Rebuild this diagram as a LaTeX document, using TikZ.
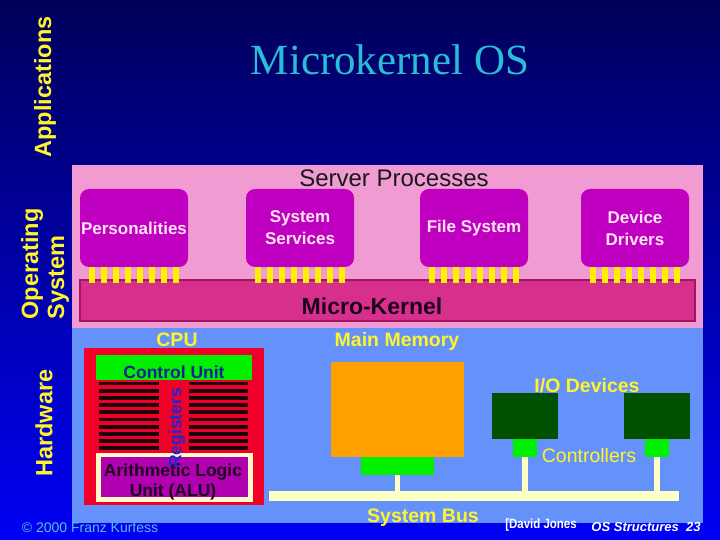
\documentclass[tikz,border=0pt]{standalone}
\usepackage{fontspec}
\setmainfont{Liberation Serif}
\setsansfont{Liberation Sans}
\usetikzlibrary{positioning}
\definecolor{bgtop}{RGB}{0,0,90}
\definecolor{bgbot}{RGB}{0,0,245}
\definecolor{titlecyan}{RGB}{40,190,215}
\definecolor{labyel}{RGB}{255,245,40}
\definecolor{pinkpan}{RGB}{240,155,210}
\definecolor{bluepan}{RGB}{100,145,250}
\definecolor{srvmag}{RGB}{192,0,192}
\definecolor{srvtxt}{RGB}{255,228,245}
\definecolor{kerfill}{RGB}{214,48,140}
\definecolor{kerline}{RGB}{165,20,95}
\definecolor{pinyel}{RGB}{255,240,0}
\definecolor{cpured}{RGB}{240,0,40}
\definecolor{cugreen}{RGB}{0,240,0}
\definecolor{cutxt}{RGB}{20,30,150}
\definecolor{regblue}{RGB}{30,40,210}
\definecolor{regstripe}{RGB}{30,0,10}
\definecolor{alucream}{RGB}{255,250,200}
\definecolor{alupurple}{RGB}{176,0,176}
\definecolor{darktxt}{RGB}{30,0,30}
\definecolor{memorg}{RGB}{255,160,0}
\definecolor{iogreen}{RGB}{0,80,0}
\definecolor{buscream}{RGB}{255,255,200}
\definecolor{copyblue}{RGB}{90,190,225}

\begin{document}
\begin{tikzpicture}[x=1pt, y=-1pt,
    lbl/.style   = {inner sep=0, text=labyel,
                    font=\sffamily\bfseries\fontsize{19.5}{22}\selectfont},
    side/.style  = {inner sep=0, rotate=90, align=left, text=labyel,
                    font=\sffamily\bfseries\fontsize{23.5}{26}\selectfont},
    srv/.style   = {fill=srvmag, rounded corners=9pt, minimum width=108pt,
                    minimum height=78pt, inner sep=0, align=center, text=srvtxt,
                    font=\sffamily\bfseries\fontsize{17}{22}\selectfont},
    blk/.style   = {inner sep=0, outer sep=0},
    unit/.style  = {inner sep=0, align=center,
                    font=\sffamily\bfseries\fontsize{17.5}{20}\selectfont},
    pin/.style   = {fill=pinyel},
    stub/.style  = {draw=buscream, line width=5.5pt}
  ]
  \useasboundingbox (0,0) rectangle (720,540);
  \shade[top color=bgtop, bottom color=bgbot] (0,0) rectangle (720,540);

  % title and layer labels
  \node[font=\fontsize{43}{48}\selectfont, text=titlecyan] (title) at (390,60) {Microkernel OS};
  \node[side] (applbl) at (45,87) {Applications};
  \node[side] (oslbl)  at (45,264) {Operating\\System};
  \node[side] (hwlbl)  at (44,423) {Hardware};

  % operating system layer
  \fill[pinkpan] (72,165) rectangle (703,328);
  \fill[bluepan] (72,328) rectangle (703,523);
  \node[inner sep=0, text=black!90, font=\sffamily\fontsize{24}{26}\selectfont]
        (srvlbl) at (394,178) {Server Processes};

  \node[blk, fill=kerfill, draw=kerline, line width=1.5pt,
        minimum width=615pt, minimum height=41pt] (kernel) at (387.5,300.5) {};
  \node[inner sep=0, text=darktxt, font=\sffamily\bfseries\fontsize{23}{26}\selectfont]
        (kerlbl) at (372,306) {Micro-Kernel};

  \node[srv] (pers)    at (134,228) {Personalities};
  \node[srv] (sysserv) at (300,228) {System\\Services};
  \node[srv] (filesys) at (474,228) {File System};
  \node[srv] (devdrv)  at (635,228) {Device\\Drivers};

  \foreach \b in {pers,sysserv,filesys,devdrv}
    \foreach \i in {0,...,7}
      \fill[pin] ([xshift={9+\i*12}]\b.south west) rectangle ++(6,16);

  % CPU
  \node[blk, fill=cpured, minimum width=180pt, minimum height=157pt] (cpu) at (174,426.5) {};
  \node[lbl] (cpulbl) at (177,340) {CPU};
  \node[blk, fill=cugreen, minimum width=156pt, minimum height=25pt] (cu) at (174,367.5) {};
  \node[unit, text=cutxt] (culbl) at (174,372) {Control Unit};
  \foreach \k in {0,...,9} {
    \fill[regstripe] (99,381.5+\k*7.2) rectangle ++(60,3.8);
    \fill[regstripe] (189,381.5+\k*7.2) rectangle ++(59,3.8);
  }
  \node[blk, fill=alucream, minimum width=157pt, minimum height=49pt] (alu) at (174.5,477.5) {};
  \node[blk, fill=alupurple, minimum width=147pt, minimum height=40pt] (aluin) at (174.5,477) {};
  \node[unit, rotate=90, text=regblue] (reglbl) at (177,428) {Registers};
  \node[unit, text=darktxt, font=\sffamily\bfseries\fontsize{17.5}{20}\selectfont]
        (alulbl) at (173,482) {Arithmetic Logic\\Unit (ALU)};

  % memory, devices and bus
  \node[lbl] (memlbl) at (397,341) {Main Memory};
  \node[blk, fill=memorg, minimum width=133pt, minimum height=95pt] (mem) at (397.5,409.5) {};
  \node[blk, fill=cugreen, minimum width=73pt, minimum height=18pt] (memctl) at (397.5,466) {};
  \node[blk, fill=iogreen, minimum width=66pt, minimum height=46pt] (devA) at (525,416) {};
  \node[blk, fill=iogreen, minimum width=66pt, minimum height=46pt] (devB) at (657,416) {};
  \node[blk, fill=cugreen, minimum width=24pt, minimum height=18pt] (ctlA) at (525,448) {};
  \node[blk, fill=cugreen, minimum width=24pt, minimum height=18pt] (ctlB) at (657,448) {};
  \node[blk, fill=buscream, minimum width=410pt, minimum height=10pt] (bus) at (474,496) {};
  \draw[stub] (memctl.south) -- (memctl.south |- bus.north);
  \draw[stub] (ctlA.south) -- (ctlA.south |- bus.north);
  \draw[stub] (ctlB.south) -- (ctlB.south |- bus.north);

  \node[lbl] (iolbl)  at (587,386) {I/O Devices};
  \node[lbl, font=\sffamily\fontsize{19.5}{22}\selectfont] (ctllbl) at (589,456) {Controllers};
  \node[lbl] (buslbl) at (423,518) {System Bus};

  % footer
  \node[inner sep=0, text=copyblue, font=\sffamily\fontsize{14}{16}\selectfont]
        (copy) at (90,527) {\textcopyright{} 2000 Franz Kurfess};
  \node[inner sep=0, text=white, xscale=0.85, font=\sffamily\bfseries\fontsize{13.5}{15}\selectfont]
        (author) at (541,525) {[David Jones};
  \node[inner sep=0, text=white, font=\sffamily\bfseries\itshape\fontsize{13}{15}\selectfont]
        (slide) at (646,527) {OS Structures~~23};
\end{tikzpicture}
\end{document}
